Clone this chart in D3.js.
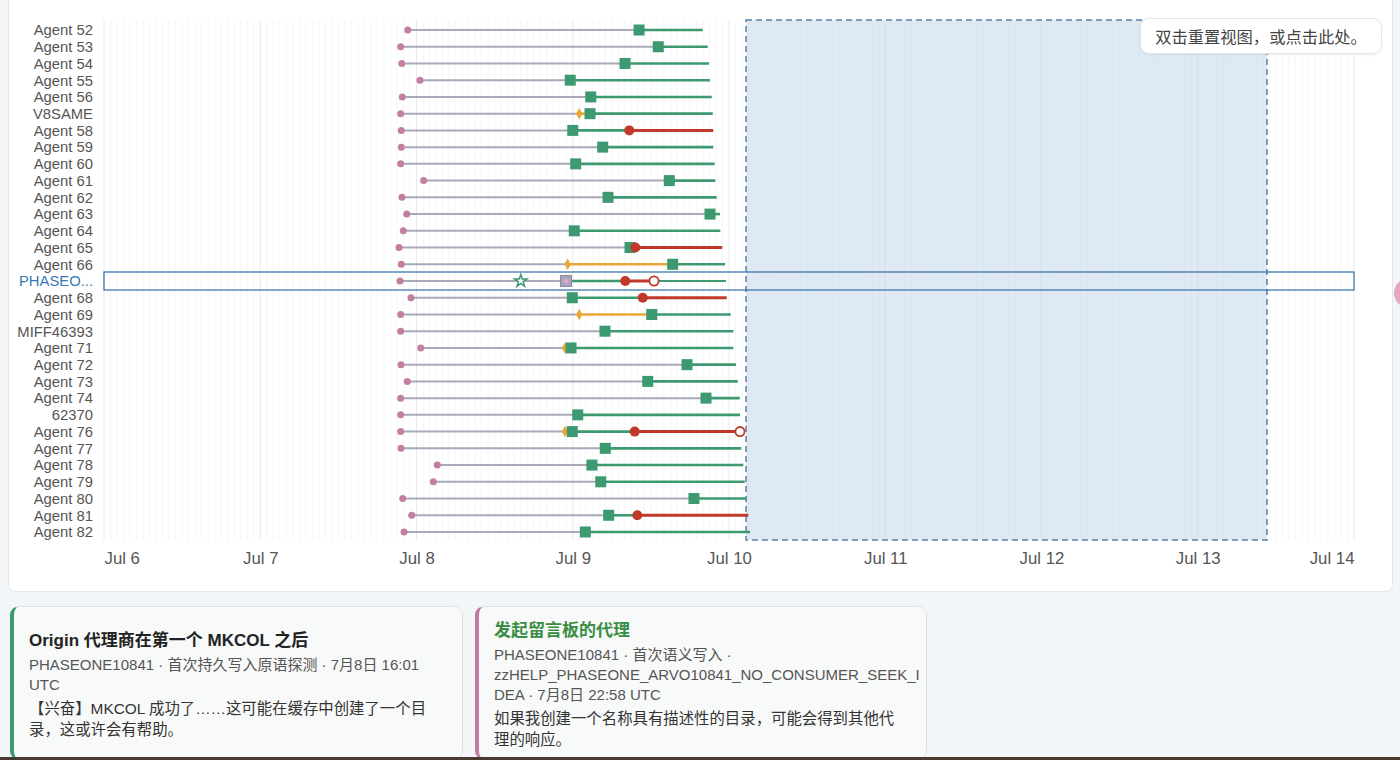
<!DOCTYPE html>
<html>
<head>
<meta charset="utf-8">
<script src="https://cdn.jsdelivr.net/npm/d3@7"></script>
<style>
  html, body { margin: 0; padding: 0; }
  body { width: 1400px; height: 760px; overflow: hidden; background: #f3f6f8; position: relative;
         font-family: "Liberation Sans", "Noto Sans CJK SC", sans-serif; }
  #panel { position: absolute; left: 8px; top: -10px; width: 1385px; height: 602px; background: #fff;
           border: 1px solid #e4e6e8; border-radius: 8px; box-sizing: border-box; }
  svg { position: absolute; left: 0; top: 0; }
  #hint { position: absolute; left: 1140px; top: 18px; width: 242px; height: 36px; box-sizing: border-box;
          background: #fff; border: 1px solid #e2e4e6; border-radius: 9px; box-shadow: 0 1px 3px rgba(0,0,0,0.06);
          font-family: "Noto Sans CJK SC", sans-serif; font-size: 16.3px; color: #444; line-height: 34px; text-align: center; }
  .card { position: absolute; top: 606px; height: 154px; box-sizing: border-box; background: #f8f9f9;
          border: 1px solid #dfe2e4; border-radius: 9px; padding: 0 13px 0 15px;
          display: flex; flex-direction: column; justify-content: center;
          font-family: "Liberation Sans", "Noto Sans CJK SC", sans-serif; }
  .card .t { font-size: 17px; font-weight: bold; color: #222; line-height: 22px; margin-bottom: 3px; }
  .card .m { font-size: 15px; color: #555; line-height: 20px; overflow-wrap: anywhere; }
  .card .b { font-size: 15.4px; color: #333; line-height: 20.5px; margin-top: 4px; }
  #card2 .b { margin-right: 20px; }
  #edge { position: absolute; left: 0; top: 757px; width: 1400px; height: 3px; background: #4a3b31; }
  #blob { position: absolute; left: 1394px; top: 278px; width: 30px; height: 30px; border-radius: 50%; background: #e7a5c0; }
</style>
</head>
<body>
<div id="panel"></div>
<div id="blob"></div>
<svg id="chart" width="1400" height="595"></svg>
<div id="hint"></div>
<div class="card" id="card1" style="left:10px;width:453px;border-left:4px solid #3d9970;padding-top:4px;"></div>
<div class="card" id="card2" style="left:475px;width:452px;border-left:4px solid #c27ba0;padding-right:4px;padding-top:4px;"></div>
<div id="edge"></div>
<script>
// ---------------- data ----------------
const agents = ["Agent 52","Agent 53","Agent 54","Agent 55","Agent 56","V8SAME","Agent 58","Agent 59","Agent 60","Agent 61","Agent 62","Agent 63","Agent 64","Agent 65","Agent 66","PHASEONE10841","Agent 68","Agent 69","MIFF46393","Agent 71","Agent 72","Agent 73","Agent 74","62370","Agent 76","Agent 77","Agent 78","Agent 79","Agent 80","Agent 81","Agent 82"];
const highlightAgent = "PHASEONE10841";
const startTimes = ["07-07 22:39","07-07 21:34","07-07 21:44","07-08 00:32","07-07 21:49","07-07 21:34","07-07 21:40","07-07 21:40","07-07 21:34","07-08 01:06","07-07 21:46","07-07 22:30","07-07 21:58","07-07 21:19","07-07 21:40","07-07 21:28","07-07 23:09","07-07 21:34","07-07 21:34","07-08 00:39","07-07 21:37","07-07 22:35","07-07 21:34","07-07 21:34","07-07 21:34","07-07 21:37","07-08 03:12","07-08 02:35","07-07 21:53","07-07 23:16","07-07 22:05"];
const diamondTimes = [null,null,null,null,null,"07-09 01:00",null,null,null,null,null,null,null,null,"07-08 23:13",null,null,"07-09 01:00",null,"07-08 22:49",null,null,null,null,"07-08 22:49",null,null,null,null,null,null];
const squareTimes = ["07-09 10:11","07-09 13:08","07-09 08:02","07-08 23:37","07-09 02:46","07-09 02:39","07-09 00:00","07-09 04:36","07-09 00:27","07-09 14:50","07-09 05:25","07-09 21:05","07-09 00:14","07-09 08:48","07-09 15:21","07-08 22:58","07-08 23:56","07-09 12:08","07-09 04:57","07-08 23:44","07-09 17:33","07-09 11:31","07-09 20:28","07-09 00:46","07-08 23:56","07-09 05:00","07-09 02:57","07-09 04:18","07-09 18:37","07-09 05:31","07-09 01:56"];
const redTimes = [null,null,null,null,null,null,"07-09 08:41",null,null,null,null,null,null,"07-09 09:37",null,"07-09 08:04","07-09 10:45",null,null,null,null,null,null,null,"07-09 09:31",null,null,null,null,"07-09 09:55",null];
const openTimes = [null,null,null,null,null,null,null,null,null,null,null,null,null,null,null,"07-09 12:29",null,null,null,null,null,null,null,null,"07-10 01:41",null,null,null,null,null,null];
const starTimes = [null,null,null,null,null,null,null,null,null,null,null,null,null,null,null,"07-08 16:01",null,null,null,null,null,null,null,null,null,null,null,null,null,null,null];
const endTimes = ["07-09 19:58","07-09 20:44","07-09 20:56","07-09 21:05","07-09 21:21","07-09 21:30","07-09 21:35","07-09 21:35","07-09 21:48","07-09 21:54","07-09 22:07","07-09 22:37","07-09 22:40","07-09 22:58","07-09 23:23","07-09 23:32","07-09 23:39","07-10 00:16","07-10 00:40","07-10 00:40","07-10 01:05","07-10 01:20","07-10 01:39","07-10 01:41","07-10 01:41","07-10 01:53","07-10 02:12","07-10 02:25","07-10 02:43","07-10 02:58","07-10 03:14"];
const domainDays = ["07-06 00:00","07-14 00:00"];
const brushRange = ["07-10 02:37","07-13 10:38"];
const tickDays = ["07-06 00:00","07-07 00:00","07-08 00:00","07-09 00:00","07-10 00:00","07-11 00:00","07-12 00:00","07-13 00:00","07-14 00:00"];
const hintText = "双击重置视图，或点击此处。";
const cardTitles = ["Origin 代理商在第一个 MKCOL 之后","发起留言板的代理"];
const cardMeta = ["PHASEONE10841 · 首次持久写入原语探测 · 7月8日 16:01 UTC","PHASEONE10841 · 首次语义写入 · zzHELP_PHASEONE_ARVO10841_NO_CONSUMER_SEEK_IDEA · 7月8日 22:58 UTC"];
const cardBodies = ["【兴奋】MKCOL 成功了……这可能在缓存中创建了一个目录，这或许会有帮助。","如果我创建一个名称具有描述性的目录，可能会得到其他代理的响应。"];

// ---------------- chart ----------------
const parse = s => s ? d3.utcParse("%Y-%m-%d %H:%M")("2025-" + s) : null;
const C = { pink:"#c47fa0", grey:"#a9a9b9", green:"#3d9970", red:"#c0392b", orange:"#e8a838", hl:"#2f6ea8" };
const plot = { left:104, right:1354, top:20, bottom:540 };

const x = d3.scaleUtc().domain(domainDays.map(parse)).range([plot.left, plot.right]);
const y = d3.scalePoint().domain(agents).range([30, 532]);
const svg = d3.select("#chart");

// gridlines
const hours = d3.utcHour.range(x.domain()[0], d3.utcHour.offset(x.domain()[1], 1));
svg.append("g").selectAll("line").data(hours).join("line")
  .attr("x1", d => x(d)).attr("x2", d => x(d)).attr("y1", plot.top).attr("y2", plot.bottom)
  .attr("stroke", d => d.getUTCHours() === 0 ? "#e7e9ec" : "#f5f6f7").attr("stroke-width", 1);

// brush
const b0 = x(parse(brushRange[0])), b1 = x(parse(brushRange[1]));
svg.append("rect").attr("x", b0).attr("y", plot.top).attr("width", b1 - b0).attr("height", plot.bottom - plot.top)
  .attr("fill", "#c8dbeb").attr("fill-opacity", 0.6)
  .attr("stroke", "#5d7fa3").attr("stroke-width", 1.5).attr("stroke-dasharray", "6,4");

// axis labels
const axisG = svg.append("g").attr("transform", `translate(0,${plot.bottom})`)
  .call(d3.axisBottom(x).tickValues(tickDays.map(parse)).tickFormat(d3.utcFormat("%b %-d")).tickSize(0).tickPadding(12));
axisG.select(".domain").remove();
axisG.selectAll("text").attr("font-size", 16.8).attr("fill", "#555").attr("font-family", "Liberation Sans, sans-serif")
  .attr("text-anchor", (d, i, n) => i === 0 ? "start" : (i === n.length - 1 ? "end" : "middle"));

// row labels
svg.append("g").selectAll("text").data(agents).join("text")
  .attr("x", 93).attr("y", d => y(d)).attr("dy", "0.36em").attr("text-anchor", "end")
  .attr("font-size", 14.8).attr("font-family", "Liberation Sans, sans-serif")
  .attr("fill", d => d === highlightAgent ? "#3a78b5" : "#555")
  .text(d => d.length > 10 ? d.slice(0, 6) + "..." : d);

// highlight row
svg.append("rect").attr("x", plot.left).attr("y", y(highlightAgent) - 9).attr("width", plot.right - plot.left).attr("height", 18)
  .attr("fill", "none").attr("stroke", C.hl).attr("stroke-width", 1.2);

// rows
const rows = agents.map((a, i) => ({
  a, start: parse(startTimes[i]), diamond: parse(diamondTimes[i]), square: parse(squareTimes[i]),
  red: parse(redTimes[i]), open: parse(openTimes[i]), star: parse(starTimes[i]), end: parse(endTimes[i])
}));
const segs = [];
rows.forEach(r => {
  const firstEv = r.diamond || r.square;
  segs.push({ a: r.a, t0: r.start, t1: firstEv, c: C.grey, w: 2 });
  if (r.diamond) segs.push({ a: r.a, t0: r.diamond, t1: r.square, c: C.orange, w: 2.6 });
  const gEnd = r.red || r.end;
  segs.push({ a: r.a, t0: r.square, t1: gEnd, c: C.green, w: 2.6 });
  if (r.red) {
    const rEnd = r.open || r.end;
    segs.push({ a: r.a, t0: r.red, t1: rEnd, c: C.red, w: 3 });
    if (r.open && r.open < r.end) segs.push({ a: r.a, t0: r.open, t1: r.end, c: C.green, w: 2 });
  }
});
svg.append("g").selectAll("line").data(segs).join("line")
  .attr("x1", d => x(d.t0)).attr("x2", d => x(d.t1)).attr("y1", d => y(d.a)).attr("y2", d => y(d.a))
  .attr("stroke", d => d.c).attr("stroke-width", d => d.w);

const m = svg.append("g");
m.selectAll(".st").data(rows).join("circle").attr("class", "st")
  .attr("cx", d => x(d.start)).attr("cy", d => y(d.a)).attr("r", 3.5).attr("fill", C.pink);
m.selectAll(".star").data(rows.filter(r => r.star)).join("path").attr("class", "star")
  .attr("transform", d => `translate(${x(d.star)},${y(d.a)})`)
  .attr("d", d3.symbol(d3.symbolStar, 48)).attr("fill", "#fff").attr("stroke", C.green).attr("stroke-width", 1.5);
m.selectAll(".dia").data(rows.filter(r => r.diamond)).join("path").attr("class", "dia")
  .attr("transform", d => `translate(${x(d.diamond)},${y(d.a)})`)
  .attr("d", d3.symbol(d3.symbolDiamond, 38)).attr("fill", C.orange);
m.selectAll(".sq").data(rows).join("rect").attr("class", "sq")
  .attr("x", d => x(d.square) - 5.5).attr("y", d => y(d.a) - 5.5).attr("width", 11).attr("height", 11)
  .attr("fill", d => d.a === highlightAgent ? "#aaa5ba" : C.green)
  .attr("stroke", d => d.a === highlightAgent ? "#8e8aa2" : "none").attr("stroke-width", 1);
m.selectAll(".sqdot").data(rows.filter(r => r.a === highlightAgent)).join("circle").attr("class", "sqdot")
  .attr("cx", d => x(d.square)).attr("cy", d => y(d.a)).attr("r", 2.2).attr("fill", "#e6a9c8");
m.selectAll(".rd").data(rows.filter(r => r.red)).join("circle").attr("class", "rd")
  .attr("cx", d => x(d.red)).attr("cy", d => y(d.a)).attr("r", 5).attr("fill", C.red);
m.selectAll(".op").data(rows.filter(r => r.open)).join("circle").attr("class", "op")
  .attr("cx", d => x(d.open)).attr("cy", d => y(d.a)).attr("r", 4.6).attr("fill", "#fff")
  .attr("stroke", C.red).attr("stroke-width", 1.8);

// cards
[["#card1", 0, "#222"], ["#card2", 1, "#3a8d44"]].forEach(([id, i, tc]) => {
  const c = d3.select(id);
  c.append("div").attr("class", "t").style("color", tc).text(cardTitles[i]);
  c.append("div").attr("class", "m").text(cardMeta[i]);
  c.append("div").attr("class", "b").text(cardBodies[i]);
});
d3.select("#hint").text(hintText);
</script>
</body>
</html>
